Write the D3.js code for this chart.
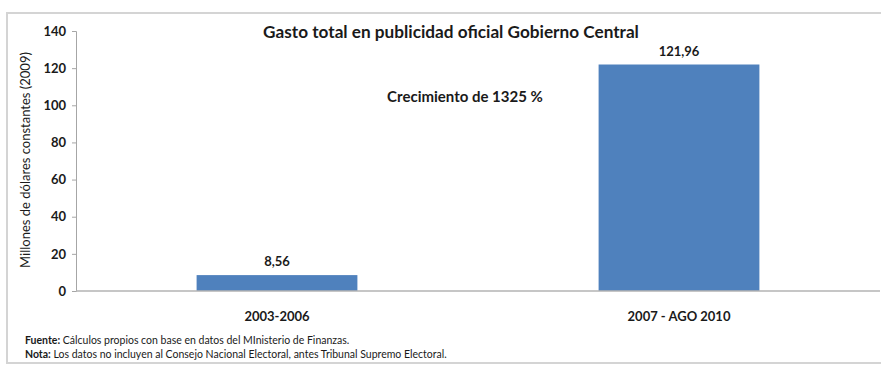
<!DOCTYPE html>
<html>
<head>
<meta charset="utf-8">
<script src="https://cdn.jsdelivr.net/npm/d3@7"></script>
<style>
  body { margin: 0; background: #fff; }
  text { font-family: Lato, "Open Sans", sans-serif; fill: #1a1a1a; }
</style>
</head>
<body>
<div id="main"><svg width="881" height="365"></svg></div>
<script>
// Chart data
var periods = ["2003-2006", "2007 - AGO 2010"];
var gasto = [8.56, 121.96];
var valueLabels = ["8,56", "121,96"];
var yTicks = [0, 20, 40, 60, 80, 100, 120, 140];

var svg = d3.select("#main").select("svg");

// Outer frame
svg.append("rect")
    .attr("x", 7).attr("y", 13)
    .attr("width", 880).attr("height", 350)
    .attr("fill", "none")
    .attr("stroke", "#d4d4d4")
    .attr("stroke-width", 2);

var margin = {top: 31, left: 76, bottom: 74, right: 1};
var width = 881 - margin.left - margin.right;
var height = 365 - margin.top - margin.bottom;

var g = svg.append("g")
    .attr("transform", "translate(" + margin.left + "," + margin.top + ")");

var xScale = d3.scaleBand()
    .domain(periods)
    .range([0, width])
    .paddingInner(0.6)
    .paddingOuter(0.3);

var yScale = d3.scaleLinear()
    .domain([0, 140])
    .range([height, 0]);

// Y axis
var yAxis = d3.axisLeft(yScale).tickValues(yTicks).tickSize(4).tickPadding(6);
var yG = g.append("g").attr("class", "y axis").call(yAxis);
yG.select(".domain").attr("stroke", "#a6a6a6");
yG.selectAll(".tick line").attr("stroke", "#a6a6a6");
yG.selectAll(".tick text")
    .style("font-family", "Lato, sans-serif")
    .style("font-size", "13px")
    .style("font-weight", "bold")
    .attr("fill", "#1a1a1a");

// Bars
g.selectAll(".bar")
    .data(gasto)
    .enter().append("rect")
    .attr("class", "bar")
    .attr("x", function(d, i) { return xScale(periods[i]); })
    .attr("y", function(d) { return yScale(d); })
    .attr("width", xScale.bandwidth())
    .attr("height", function(d) { return height - yScale(d); })
    .attr("fill", "#4f81bd");

// X axis baseline
g.append("line")
    .attr("x1", 0).attr("x2", width)
    .attr("y1", height).attr("y2", height)
    .attr("stroke", "#b3b3b3")
    .attr("stroke-width", 1.5);

// Category labels
g.selectAll(".cat")
    .data(periods)
    .enter().append("text")
    .attr("x", function(d) { return xScale(d) + xScale.bandwidth() / 2; })
    .attr("y", height + 30)
    .attr("text-anchor", "middle")
    .style("font-size", "13px")
    .style("font-weight", "bold")
    .text(function(d) { return d; });

// Value labels
g.selectAll(".val")
    .data(gasto)
    .enter().append("text")
    .attr("x", function(d, i) { return xScale(periods[i]) + xScale.bandwidth() / 2; })
    .attr("y", function(d) { return yScale(d) - 9; })
    .attr("text-anchor", "middle")
    .style("font-size", "13px")
    .style("font-weight", "bold")
    .text(function(d, i) { return valueLabels[i]; });

// Title and annotation
svg.append("text")
    .attr("x", 451).attr("y", 38)
    .attr("text-anchor", "middle")
    .style("font-size", "17.2px")
    .style("font-weight", "bold")
    .text("Gasto total en publicidad oficial Gobierno Central");

svg.append("text")
    .attr("x", 465).attr("y", 102)
    .attr("text-anchor", "middle")
    .style("font-size", "15px")
    .style("font-weight", "bold")
    .text("Crecimiento de 1325 %");

// Y axis title
svg.append("text")
    .attr("transform", "translate(30,160) rotate(-90)")
    .attr("text-anchor", "middle")
    .style("font-size", "13px")
    .text("Millones de dólares constantes (2009)");

// Footnotes
var foot1 = svg.append("text").attr("x", 25).attr("y", 344).style("font-size", "10.5px");
foot1.append("tspan").style("font-weight", "bold").text("Fuente:");
foot1.append("tspan").text(" Cálculos propios con base en datos del MInisterio de Finanzas.");

var foot2 = svg.append("text").attr("x", 25).attr("y", 358).style("font-size", "10.5px");
foot2.append("tspan").style("font-weight", "bold").text("Nota:");
foot2.append("tspan").text(" Los datos no incluyen al Consejo Nacional Electoral, antes Tribunal Supremo Electoral.");
</script>
</body>
</html>
